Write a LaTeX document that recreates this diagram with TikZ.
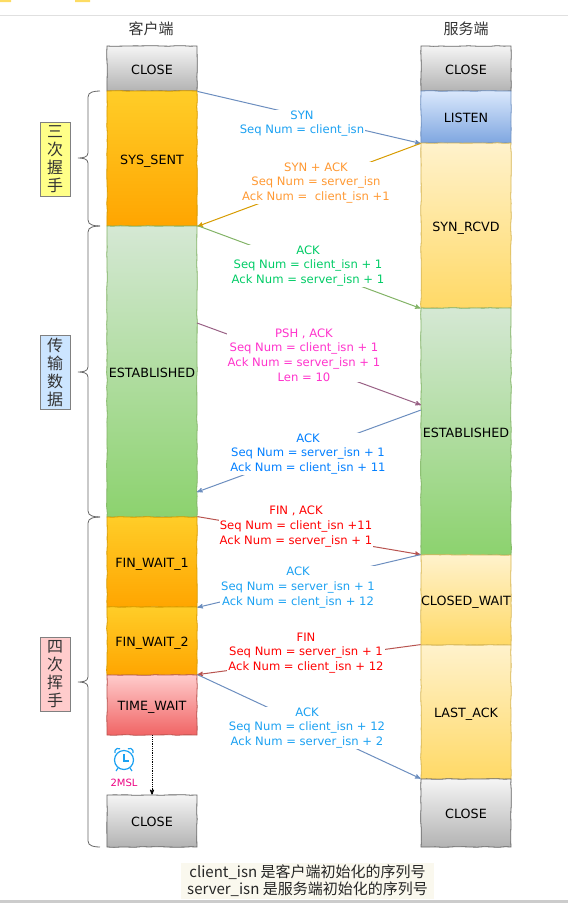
\documentclass[tikz,border=0pt]{standalone}
\usepackage{fontspec}
\setmainfont{DejaVu Sans}
\newfontfamily\cjk{Noto Sans CJK SC}
\usetikzlibrary{arrows,decorations.pathmorphing}
\definecolor{synblue}{HTML}{1BA1F2}
\definecolor{ackblue}{HTML}{007FFF}
\definecolor{synorange}{HTML}{FF9933}
\definecolor{ackgreen}{HTML}{00CC66}
\definecolor{pshpink}{HTML}{FF33CC}
\definecolor{lineblue}{HTML}{6C8EBF}
\definecolor{linegold}{HTML}{D79B00}
\definecolor{linegreen}{HTML}{82B366}
\definecolor{linepurple}{HTML}{996185}
\definecolor{linered}{HTML}{B85450}
\tikzset{
    state/.style={draw,line width=0.8pt,minimum width=90pt,inner sep=0pt,text height=11.4pt,text depth=0pt,font=\fontsize{12.7}{14}\selectfont,decorate,decoration={random steps,segment length=7pt,amplitude=0.35pt}},
    closed/.style={state,draw=black!60,top color=black!4,bottom color=black!30},
    waiting/.style={state,draw=linegold,top color={rgb,255:red,255;green,205;blue,40},bottom color={rgb,255:red,255;green,165;blue,0}},
    established/.style={state,draw=linegreen,top color={rgb,255:red,213;green,232;blue,212},bottom color={rgb,255:red,140;green,210;blue,110}},
    listening/.style={state,draw=lineblue,top color={rgb,255:red,218;green,232;blue,252},bottom color={rgb,255:red,126;green,166;blue,224}},
    passive/.style={state,draw={rgb,255:red,214;green,182;blue,86},top color={rgb,255:red,255;green,242;blue,204},bottom color={rgb,255:red,255;green,217;blue,102}},
    timewait/.style={state,draw=linered,top color={rgb,255:red,255;green,204;blue,204},bottom color={rgb,255:red,240;green,100;blue,100}},
    title/.style={font=\cjk\fontsize{15}{17}\selectfont,text=black!80},
    phase/.style={draw=black!50,line width=0.8pt,minimum width=30pt,minimum height=74pt,inner sep=0pt,align=center,font=\cjk\fontsize{16}{18}\selectfont,text=black!80},
    packet/.style={fill=white,inner sep=1pt,align=center,font=\fontsize{11.6}{14.6}\selectfont},
    transition/.style={line width=1pt,->,>=stealth'},
    bracket/.style={draw=black!60,line width=0.8pt},
    legend/.style={fill={rgb,255:red,250;green,248;blue,238},minimum width=253pt,minimum height=36pt,inner sep=0pt,align=center,font=\cjk\fontsize{15}{17}\selectfont,text=black!85}
}
\begin{document}
\begin{tikzpicture}[x=1pt,y=-1pt]
\useasboundingbox (0,0) rectangle (568,903);
\fill[black!12] (0,15) rectangle (568,16);
\fill[black!20] (0,900) rectangle (568,903);
\fill[yellow!60!orange!60] (0,0) rectangle (11,2) (75,0) rectangle (90,2);
\node[title] (client) at (151,29) {客户端};
\node[title] (server) at (466,29) {服务端};
\node[closed,minimum height=45pt] (cclose) at (152,68.5) {CLOSE};
\node[waiting,minimum height=135pt] (synsent) at (152,158.5) {SYS\_SENT};
\node[established,minimum height=291pt] (cestab) at (152,371.5) {ESTABLISHED};
\node[waiting,minimum height=90pt] (finwaita) at (152,562) {FIN\_WAIT\_1};
\node[waiting,minimum height=68pt] (finwaitb) at (152,641) {FIN\_WAIT\_2};
\node[timewait,minimum height=60pt] (twait) at (152,705) {TIME\_WAIT};
\node[closed,minimum height=52pt] (cdone) at (152,821) {CLOSE};
\node[closed,minimum height=45pt] (sclose) at (466,68.5) {CLOSE};
\node[listening,minimum height=52pt] (listen) at (466,117) {LISTEN};
\node[passive,minimum height=165pt] (synrcvd) at (466,225.5) {SYN\_RCVD};
\node[established,minimum height=247pt] (sestab) at (466,431.5) {ESTABLISHED};
\node[passive,minimum height=90pt] (closewait) at (466,600) {CLOSED\_WAIT};
\node[passive,minimum height=134pt] (lastack) at (466,712) {LAST\_ACK};
\node[closed,minimum height=68pt] (sdone) at (466,813) {CLOSE};
\foreach \top/\tip/\bot in {91/158/226,226/372/517,517/682/847}
  \draw[bracket] (100,\top) to[out=180,in=90] (88,\top+6) -- (88,\tip-5) to[out=-90,in=0] (78,\tip) to[out=0,in=90] (88,\tip+5) -- (88,\bot-6) to[out=-90,in=180] (100,\bot);
\node[phase,fill={rgb,255:red,255;green,255;blue,136}] (shake) at (55,159) {三\\次\\握\\手};
\node[phase,fill={rgb,255:red,204;green,229;blue,255}] (transfer) at (55,372.5) {传\\输\\数\\据};
\node[phase,fill={rgb,255:red,255;green,204;blue,204}] (wave) at (55,674.5) {四\\次\\挥\\手};
\coordinate (pshout) at (197,323);
\coordinate (pshin) at (421,405);
\coordinate (ackout) at (421,410);
\coordinate (ackin) at (197,492);
\draw[transition,lineblue] (cclose.south east)--(listen.south west);
\draw[transition,linegold] (listen.south west)--(synsent.south east);
\draw[transition,linegreen] (cestab.north east)--(synrcvd.south west);
\draw[transition,linepurple] (pshout)--(pshin);
\draw[transition,lineblue] (ackout)--(ackin);
\draw[transition,linered] (finwaita.north east)--(closewait.north west);
\draw[transition,lineblue] (closewait.north west)--(finwaita.south east);
\draw[transition,linered] (lastack.north west)--(twait.north east);
\draw[transition,lineblue] (twait.north east)--(sdone.north west);
\draw[->,>=stealth',densely dotted,line width=0.8pt] (twait.south)--(cdone.north);
\node[packet,text=synblue] (syn) at (302,123.5) {SYN\\Seq Num = client\_isn};
\node[packet,text=synorange] (synack) at (316,183) {SYN + ACK\\Seq Num = server\_isn\\Ack Num =\ \ client\_isn +1};
\node[packet,text=ackgreen] (ackone) at (308,266) {ACK\\Seq Num = client\_isn + 1\\Ack Num = server\_isn + 1};
\node[packet,text=pshpink] (psh) at (304,355) {PSH , ACK\\Seq Num = client\_isn + 1\\Ack Num = server\_isn + 1\\Len = 10};
\node[packet,text=ackblue] (acktwo) at (308,454) {ACK\\Seq Num = server\_isn + 1\\Ack Num = client\_isn + 11};
\node[packet,text=red] (fin) at (296,526.5) {FIN , ACK\\Seq Num = client\_isn +11\\Ack Num = server\_isn + 1};
\node[packet,text=synblue] (ackthree) at (298,587.5) {ACK\\Seq Num = server\_isn + 1\\Ack Num = clent\_isn + 12};
\node[packet,text=red] (finb) at (306,653) {FIN\\Seq Num = server\_isn + 1\\Ack Num = client\_isn + 12};
\node[packet,text=synblue] (ackfour) at (307,728) {ACK\\Seq Num = client\_isn + 12\\Ack Num = server\_isn + 2};
\begin{scope}[shift={(124,760)},synblue,line width=1.2pt]
\draw (0,0) circle (9.5pt);
\draw (0,-6)--(0,1)--(5,1);
\draw (-9,-7) arc (200:60:3.5pt);
\draw (9,-7) arc (-20:120:3.5pt);
\draw (-6,8)--(-8,11) (6,8)--(8,11);
\end{scope}
\node[font=\fontsize{10}{12}\selectfont,text=magenta!90!red,inner sep=0pt] (msl) at (124,783) {2MSL};
\node[legend] (note) at (307.5,881) {client\_isn 是客户端初始化的序列号\\server\_isn 是服务端初始化的序列号};
\end{tikzpicture}
\end{document}
